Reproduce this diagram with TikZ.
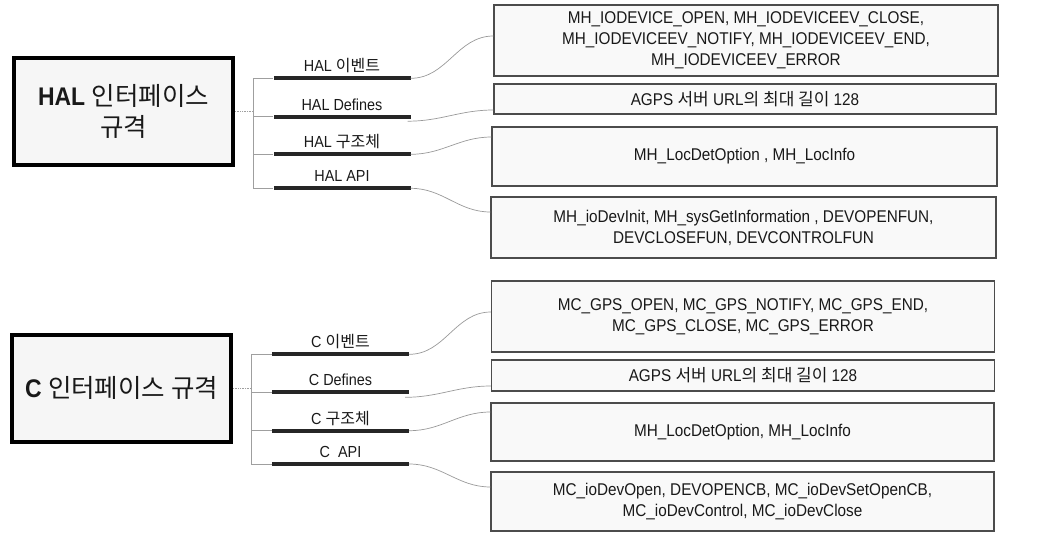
\documentclass[tikz,border=0pt]{standalone}
\usepackage{fontspec}
\setmainfont[FakeStretch=0.9]{Liberation Sans}
\newfontfamily\krfont{Noto Sans CJK KR}
\newcommand{\kr}[1]{{\krfont #1}}
\begin{document}
\begin{tikzpicture}[x=1pt, y=-1pt, every node/.style={text=black!90},
  spec/.style={draw=black, line width=4pt, fill=gray!7, minimum width=219pt, minimum height=107pt, align=center, font=\fontsize{25.5}{31}\selectfont},
  bar/.style={fill=black!85, inner sep=0pt, minimum width=137pt, minimum height=4pt, label distance=2pt},
  barlabel/.style={font=\fontsize{16}{18}\selectfont, text height=11pt, text depth=3pt, inner sep=1pt},
  rbox/.style={draw=black!70, line width=1.1pt, fill=gray!5, minimum width=503pt, align=center, inner sep=0pt, font=\fontsize{17}{21}\selectfont},
  tree/.style={draw=gray!75, line width=0.7pt},
  link/.style={draw=gray!80, line width=0.7pt}]
\useasboundingbox (0,0) rectangle (1047,533);
\node[spec] (hspec) at (123.5,111.5){\textbf{HAL} \kr{인터페이스}\\\kr{규격}};
\coordinate (hfork) at (253.3,111.5);
\node[bar, label={[barlabel]above:HAL \kr{이벤트}}] (hbar1) at (342,78.3){};
\node[bar, label={[barlabel]above:HAL Defines}] (hbar2) at (342,116.7){};
\node[bar, label={[barlabel]above:HAL \kr{구조체}}] (hbar3) at (342,154.3){};
\node[bar, label={[barlabel]above:HAL API}] (hbar4) at (342,188.3){};
\node[rbox, minimum width=504pt, minimum height=71pt] (hbox1) at (746,40.5){MH\_IODEVICE\_OPEN, MH\_IODEVICEEV\_CLOSE,\\MH\_IODEVICEEV\_NOTIFY, MH\_IODEVICEEV\_END,\\MH\_IODEVICEEV\_ERROR};
\node[rbox, minimum width=502pt, minimum height=30pt] (hbox2) at (745,99){AGPS \kr{서버} URL\kr{의 최대 길이} 128};
\node[rbox, minimum width=505pt, minimum height=59pt] (hbox3) at (744.5,156.5){MH\_LocDetOption , MH\_LocInfo};
\node[rbox, minimum width=505pt, minimum height=61pt] (hbox4) at (743.5,227.5){MH\_ioDevInit, MH\_sysGetInformation , DEVOPENFUN,\\DEVCLOSEFUN, DEVCONTROLFUN};
\draw[tree, densely dotted](hspec.east) -- (hfork);
\draw[tree](hfork) |- (hbar1.west);
\draw[tree](hfork) |- (hbar2.west);
\draw[tree](hfork) |- (hbar3.west);
\draw[tree](hfork) |- (hbar4.west);
\draw[link](hbar1.east) to[out=0, in=180] ([yshift=4.5pt]hbox1.west);
\draw[link]([xshift=-3pt, yshift=-4.5pt]hbar2.east) to[out=0, in=180] ([yshift=-11pt]hbox2.west);
\draw[link](hbar3.east) to[out=0, in=180] ([yshift=19.5pt]hbox3.west);
\draw[link](hbar4.east) to[out=0, in=180] ([yshift=15.5pt]hbox4.west);
\node[spec] (cspec) at (121.5,388){\textbf{C} \kr{인터페이스 규격}};
\coordinate (cfork) at (251,388);
\node[bar, label={[barlabel]above:C \kr{이벤트}}] (cbar1) at (340.5,354.3){};
\node[bar, label={[barlabel]above:C Defines}] (cbar2) at (340.5,392.3){};
\node[bar, label={[barlabel]above:C \kr{구조체}}] (cbar3) at (340.5,430.7){};
\node[bar, label={[barlabel]above:C\ \ API}] (cbar4) at (340.5,464){};
\node[rbox, minimum height=71pt] (cbox1) at (743,316.5){MC\_GPS\_OPEN, MC\_GPS\_NOTIFY, MC\_GPS\_END,\\MC\_GPS\_CLOSE, MC\_GPS\_ERROR};
\node[rbox, minimum height=31pt] (cbox2) at (743,375.5){AGPS \kr{서버} URL\kr{의 최대 길이} 128};
\node[rbox, minimum height=58pt] (cbox3) at (742.5,432){MH\_LocDetOption, MH\_LocInfo};
\node[rbox, minimum height=59pt] (cbox4) at (742.5,501.5){MC\_ioDevOpen, DEVOPENCB, MC\_ioDevSetOpenCB,\\MC\_ioDevControl, MC\_ioDevClose};
\draw[tree, densely dotted](cspec.east) -- (cfork);
\draw[tree](cfork) |- (cbar1.west);
\draw[tree](cfork) |- (cbar2.west);
\draw[tree](cfork) |- (cbar3.west);
\draw[tree](cfork) |- (cbar4.west);
\draw[link](cbar1.east) to[out=0, in=180] ([yshift=4.5pt]cbox1.west);
\draw[link]([xshift=-4pt, yshift=-5pt]cbar2.east) to[out=0, in=180] ([yshift=-10.5pt]cbox2.west);
\draw[link](cbar3.east) to[out=0, in=180] ([yshift=20pt]cbox3.west);
\draw[link](cbar4.east) to[out=0, in=180] ([yshift=14.5pt]cbox4.west);
\end{tikzpicture}
\end{document}
